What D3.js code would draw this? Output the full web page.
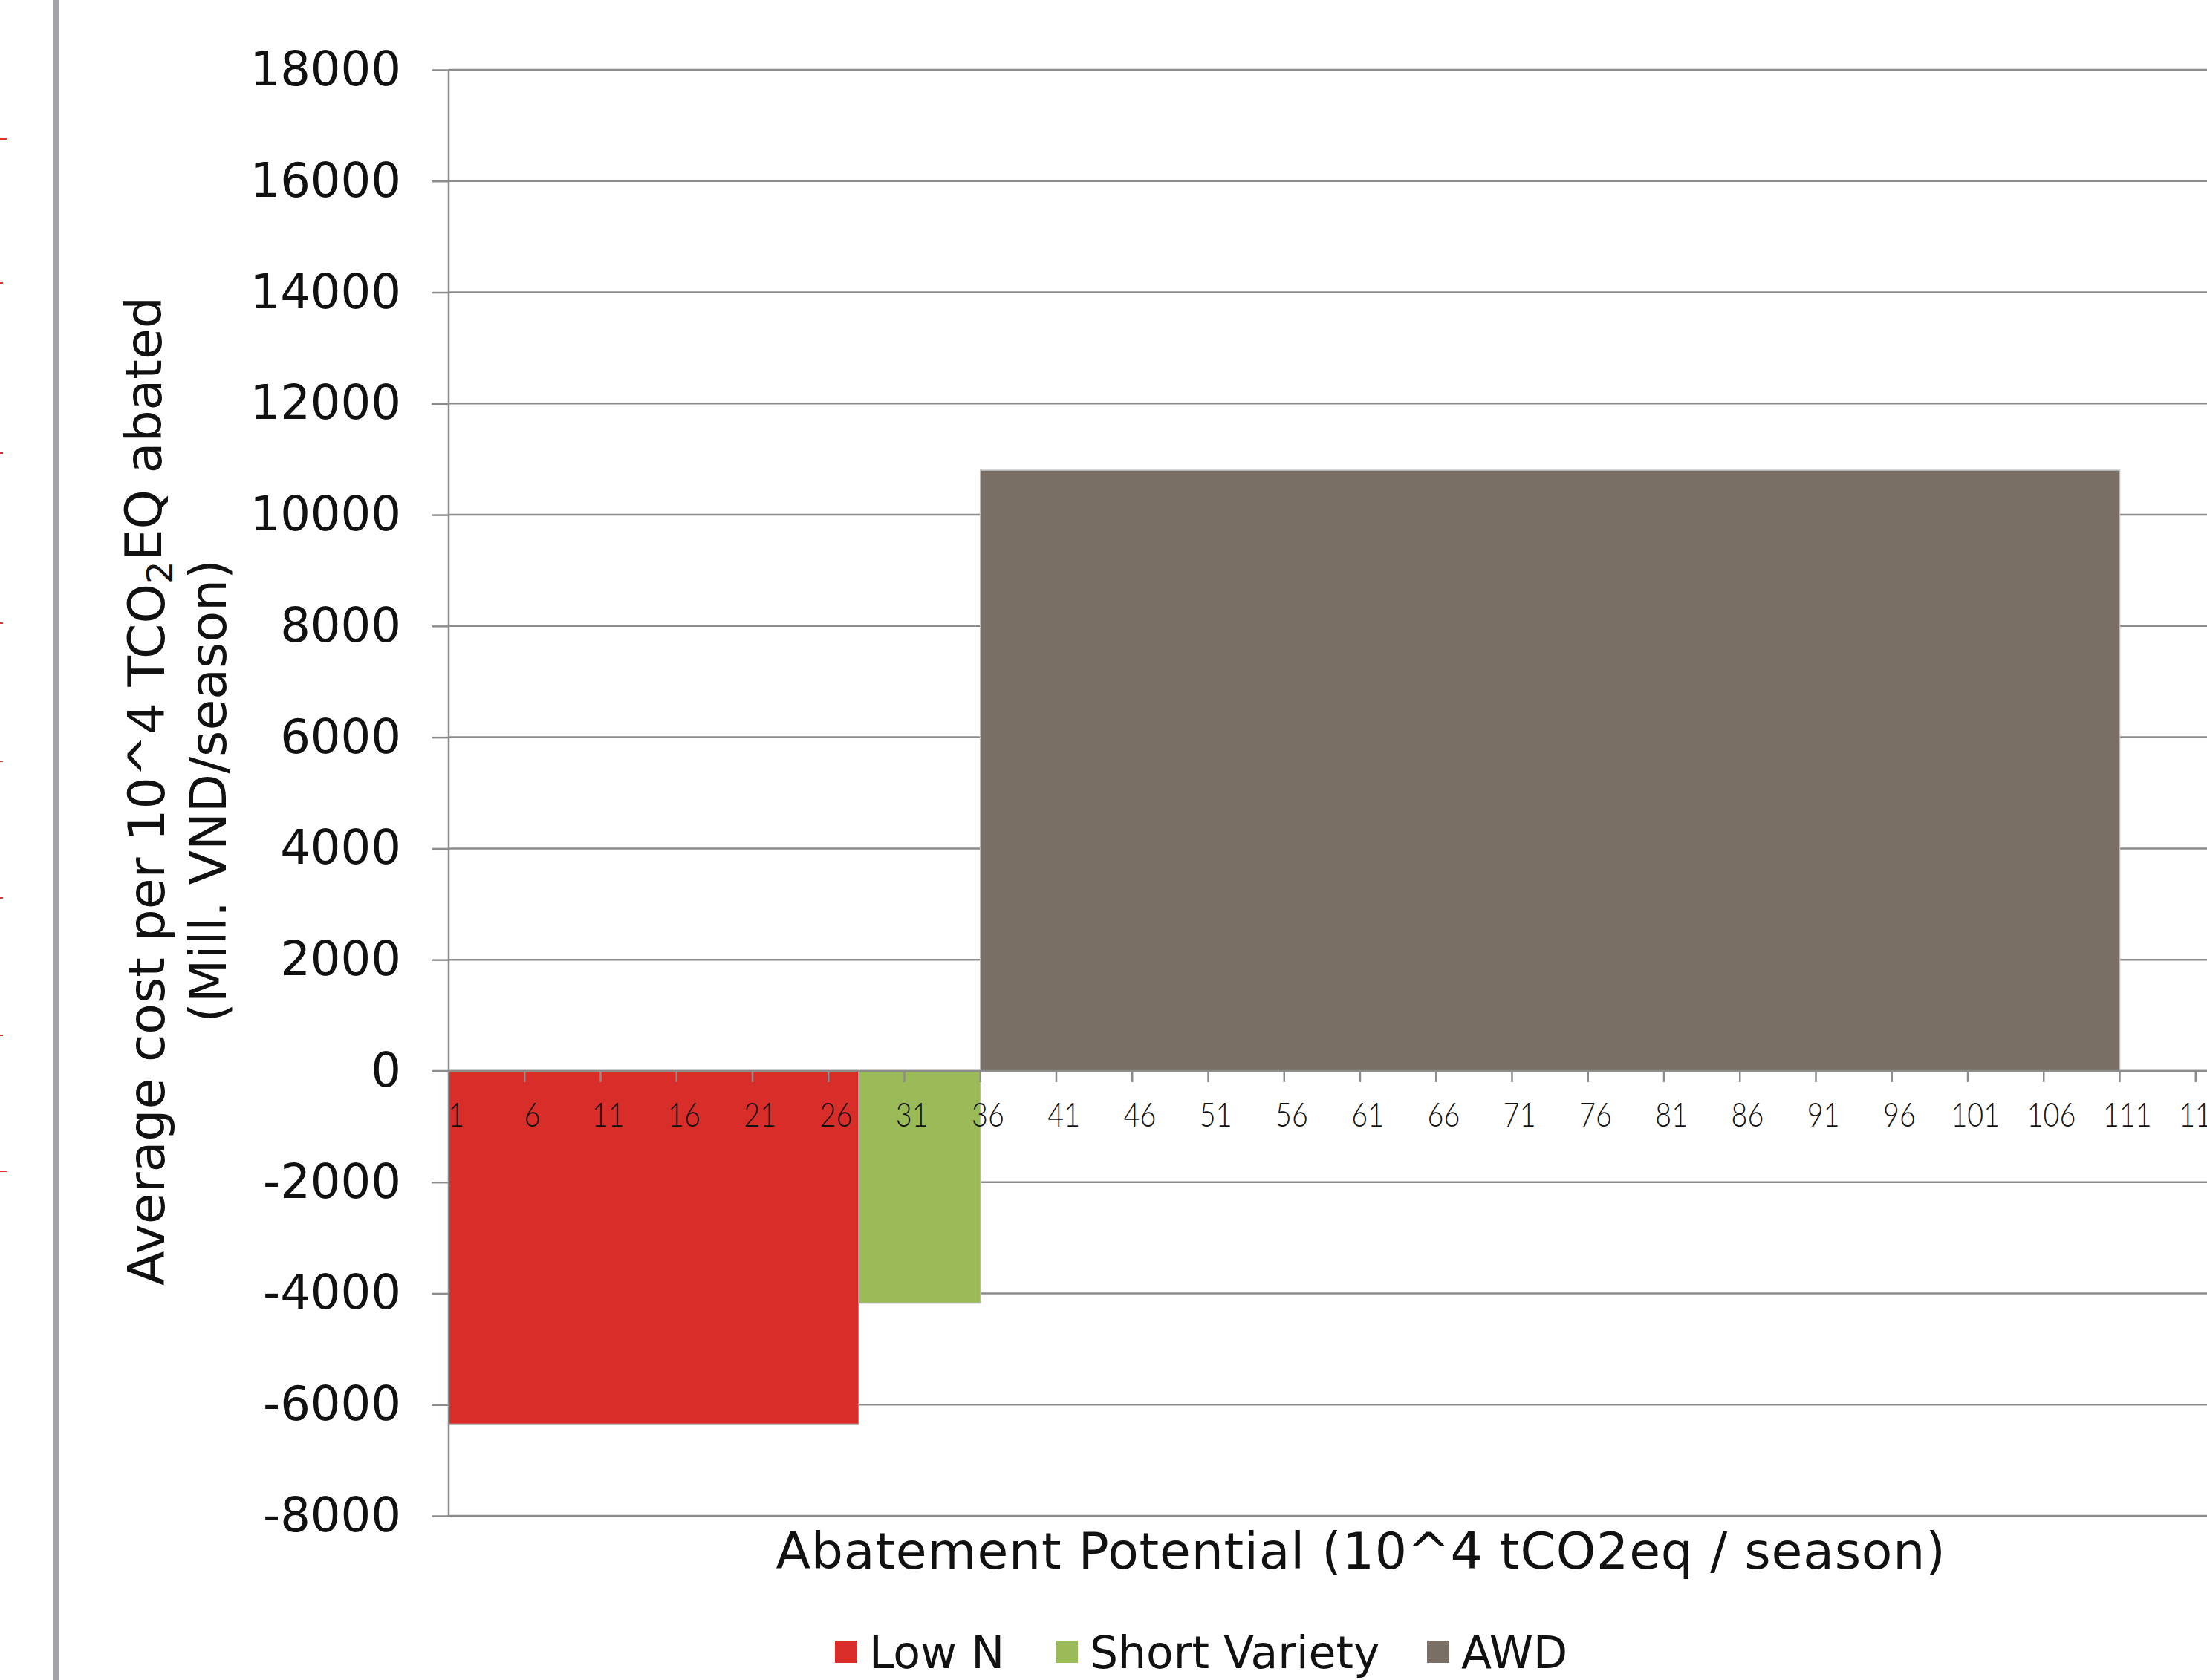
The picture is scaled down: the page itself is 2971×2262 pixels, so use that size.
<!DOCTYPE html>
<html>
<head>
<meta charset="utf-8">
<script src="https://cdn.jsdelivr.net/npm/d3@7"></script>
<style>
  html, body { margin: 0; padding: 0; background: #ffffff; overflow: hidden; }
  svg { display: block; }
  text { font-family: "DejaVu Sans", sans-serif; fill: #111; }
</style>
</head>
<body>
<svg id="chart" width="2971" height="2262"></svg>
<script>
// Marginal abatement cost of rice-farming options
const options = ["Low N", "Short Variety", "AWD"];
const abatementPotential = [27, 8, 75];          // 10^4 tCO2eq / season
const averageCost = [-6350, -4175, 10800];       // Mill. VND per 10^4 tCO2eq
const optionColors = ["#d92d2a", "#9bbb59", "#796f64"];

// Category axis: abatement units, labelled every 5
const categoryCount = 120;
const categories = d3.range(1, categoryCount + 1);
const xTickLabels = [1, 6, 11, 16, 21, 26, 31, 36, 41, 46, 51, 56, 61, 66, 71, 76, 81, 86, 91, 96, 101, 106, 111, 116];
const yTicks = [-8000, -6000, -4000, -2000, 0, 2000, 4000, 6000, 8000, 10000, 12000, 14000, 16000, 18000];

const W = 2971, H = 2262;
const plot = { left: 604, top: 94, bottom: 2041, unit: 20.45 };

const svg = d3.select("#chart");

const x = d3.scaleBand()
  .domain(categories)
  .range([plot.left, plot.left + categoryCount * plot.unit])
  .paddingInner(0).paddingOuter(0);

const y = d3.scaleLinear()
  .domain([yTicks[0], yTicks[yTicks.length - 1]])
  .range([plot.bottom, plot.top]);

// page frame rule on the left
svg.append("rect")
  .attr("x", 72).attr("y", 0).attr("width", 8).attr("height", H)
  .attr("fill", "#a4a4a8");

// horizontal gridlines
svg.append("g").selectAll("line")
  .data(yTicks)
  .join("line")
  .attr("x1", plot.left).attr("x2", W)
  .attr("y1", d => y(d)).attr("y2", d => y(d))
  .attr("stroke", "#8c8c8c").attr("stroke-width", 2.5);

// option blocks: each option spans its abatement potential along the axis
const starts = d3.cumsum([0].concat(abatementPotential.slice(0, -1)));
const blocks = options.map((name, i) => ({
  name,
  first: starts[i] + 1,
  last: starts[i] + abatementPotential[i],
  value: averageCost[i],
  color: optionColors[i]
}));

svg.append("g").selectAll("rect")
  .data(blocks)
  .join("rect")
  .attr("x", d => x(d.first))
  .attr("width", d => x(d.last) + x.bandwidth() - x(d.first))
  .attr("y", d => Math.min(y(d.value), y(0)))
  .attr("height", d => Math.abs(y(d.value) - y(0)))
  .attr("fill", d => d.color)
  .attr("stroke", "#b9b9b9").attr("stroke-width", 1.5);

// y axis
const yAxis = d3.axisLeft(y).tickValues(yTicks).tickSize(23).tickPadding(41).tickFormat(d => String(d));
const gy = svg.append("g").attr("transform", `translate(${plot.left},0)`).call(yAxis);
gy.select(".domain").attr("stroke", "#8c8c8c").attr("stroke-width", 2.5)
  .attr("d", `M0,${plot.top}V${plot.bottom}`);
gy.selectAll(".tick line").attr("stroke", "#8c8c8c").attr("stroke-width", 2.5);
gy.selectAll(".tick text")
  .style("font-family", "DejaVu Sans, sans-serif")
  .style("font-size", "64px").attr("fill", "#111");

// x axis on the zero line
const xAxis = d3.axisBottom(x).tickValues(xTickLabels).tickSize(0).tickPadding(0);
const gx = svg.append("g").attr("transform", `translate(0,${y(0)})`).call(xAxis);
gx.select(".domain").attr("stroke", "#8c8c8c").attr("stroke-width", 2.5)
  .attr("d", `M${plot.left - 23},0H${W}`);
gx.selectAll(".tick text")
  .attr("y", 59).attr("dy", "0.36em")
  .attr("transform", "scale(0.82,1)")
  .style("font-family", "Lato, DejaVu Sans, sans-serif")
  .style("font-weight", "300")
  .style("font-size", "46px").attr("fill", "#111");

// tick marks between every fifth category
const boundaryTicks = categories.filter(c => c % 5 === 0);
gx.append("g").selectAll("line")
  .data(boundaryTicks)
  .join("line")
  .attr("x1", d => x(d) + x.bandwidth()).attr("x2", d => x(d) + x.bandwidth())
  .attr("y1", 0).attr("y2", 15)
  .attr("stroke", "#8c8c8c").attr("stroke-width", 2.5);

// y axis title (two lines, rotated)
const yTitle = svg.append("g").attr("transform", "translate(197,1065) rotate(-90)");
const t1 = yTitle.append("text").attr("text-anchor", "middle").attr("dy", "0.36em")
  .style("font-size", "68px");
t1.append("tspan").text("Average cost per 10^4 TCO");
t1.append("tspan").attr("dy", "0.22em").style("font-size", "48px").text("2");
t1.append("tspan").attr("dy", "-0.22em").text("EQ abated");
yTitle.append("text").attr("x", 0).attr("y", 83).attr("text-anchor", "middle").attr("dy", "0.36em")
  .style("font-size", "68px").text("(Mill. VND/season)");

// x axis title
svg.append("text")
  .attr("x", 1832).attr("y", 2088).attr("dy", "0.36em")
  .attr("text-anchor", "middle")
  .style("font-size", "68px")
  .style("letter-spacing", "0.8px")
  .text("Abatement Potential (10^4 tCO2eq / season)");

// legend
const legendX = [1124, 1421, 1921];
const legend = svg.append("g").selectAll("g")
  .data(blocks)
  .join("g")
  .attr("transform", (d, i) => `translate(${legendX[i]},2224)`);
legend.append("rect")
  .attr("x", 0).attr("y", -15).attr("width", 30).attr("height", 30)
  .attr("fill", d => d.color);
legend.append("text")
  .attr("x", 46).attr("dy", "0.36em")
  .style("font-size", "60px")
  .text(d => d.name);

// small red edge marks at the far left
const edgeMarks = [187, 381, 610, 839, 1025, 1209, 1394, 1577];
svg.append("g").selectAll("line")
  .data(edgeMarks)
  .join("line")
  .attr("x1", 0).attr("x2", (d, i) => (i === 0 || i === 7) ? 9 : 4)
  .attr("y1", d => d).attr("y2", d => d)
  .attr("stroke", "#e0302c").attr("stroke-width", 2);
</script>
</body>
</html>
